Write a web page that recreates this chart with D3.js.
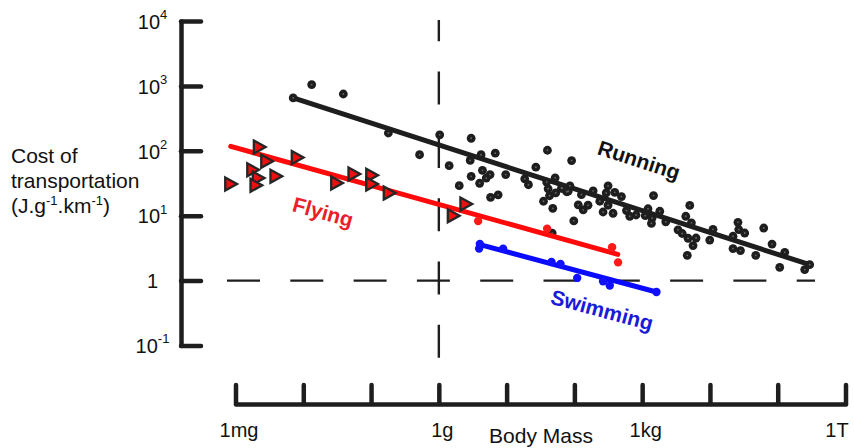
<!DOCTYPE html>
<html>
<head>
<meta charset="utf-8">
<script src="https://cdn.jsdelivr.net/npm/d3@7"></script>
<style>
  html, body { margin: 0; padding: 0; background: #fff; }
  svg { display: block; font-family: "Liberation Sans", Arial, Helvetica, sans-serif; }
</style>
</head>
<body>
<svg id="chart" width="854" height="448"></svg>
<script>
// Body mass (g) tick values and labels
const massTicks = [1e-3, 1e-2, 1e-1, 1, 10, 100, 1e3, 1e4, 1e5, 1e6];
const massTickLabels = ["1mg", "", "", "1g", "", "", "1kg", "", "", "1T"];

// Cost of transport (J/g/km) tick values and labels (base + exponent)
const costTicks = [0.1, 1, 10, 100, 1000, 10000];
const costTickBase = ["10", "1", "10", "10", "10", "10"];
const costTickExp = ["-1", "", "1", "2", "3", "4"];

// Running animals: [mass g, cost]
const runningPoints = [
  [0.0071, 652], [0.0133, 1047], [0.039, 750], [0.18, 188], [0.52, 87], [1.03, 176],
  [1.42, 59], [3.0, 156], [4.2, 87], [6.8, 92], [2.9, 71], [4.4, 50], [5.7, 43],
  [5.0, 38], [3.0, 40.5], [4.0, 31.6], [2.0, 29], [9.7, 43], [5.8, 19.2], [7.5, 21],
  [18.5, 37], [21, 30], [27, 56], [40, 102], [39, 33], [41, 26], [43, 20.3], [35, 16.7],
  [48, 13], [52, 38.4], [53, 22.4], [66, 26.4], [91, 70.6], [86, 28.9], [77, 23.4],
  [114, 14.7], [135, 12.3], [159, 14.5], [189, 24.2], [98, 8.3], [47, 5.4], [127, 21.1],
  [314, 28.9], [295, 22.4], [394, 22.9], [495, 19.7], [237, 16.7], [265, 11.4], [372, 10.9],
  [314, 14.5], [587, 12.0], [656, 9.8], [813, 10.25], [1470, 20.4], [1220, 12.8], [1110, 10.0],
  [1820, 11.7], [1400, 9.2], [1370, 7.6], [2230, 8.05], [3380, 6.06], [3900, 5.32],
  [5040, 14.4], [4400, 9.8], [5330, 7.77], [4750, 4.49], [6240, 4.53], [5630, 3.46],
  [4630, 2.45], [9930, 4.21], [11100, 6.17], [21900, 4.82], [25900, 7.91], [26600, 6.11],
  [32600, 5.41], [21900, 3.11], [28200, 2.9], [47400, 2.45], [62200, 6.46], [82400, 3.66],
  [127000, 2.73], [107000, 1.6], [250000, 1.48], [296000, 1.76], [64.5, 26.7], [81, 23.8]
];

// Flying animals: triangles (insects, birds) and dots
const flyingTriangles = [
  [0.00224, 114], [0.00288, 69], [0.00179, 51], [0.00216, 38], [0.00394, 40.5],
  [0.000847, 30.8], [0.0020, 29.4], [0.00813, 79], [0.031, 31.9], [0.0558, 43.9],
  [0.102, 41.9], [0.102, 30.8], [0.185, 22.4], [2.5, 15.1], [1.63, 10.0]
];
const flyingDots = [[3.8, 8.3], [39.6, 6.3], [360, 3.26], [441, 1.91]];

// Swimming animals
const swimmingPoints = [
  [3.93, 3.11], [4.03, 3.66], [8.88, 3.11], [45.9, 1.93], [62.4, 1.80],
  [110, 1.10], [265, 0.975], [333, 0.838], [1625, 0.667]
];

// Regression lines (end points)
const runningFit = [[0.0071, 652], [296000, 1.76]];
const flyingFit = [[0.00085, 117], [437, 2.54]];
const swimmingFit = [[4.03, 3.59], [1625, 0.667]];

const ink = "#1e1e1e";
const svg = d3.select("#chart");

const x = d3.scaleLog().domain([1e-3, 1e6]).range([235.5, 845.5]);
const y = d3.scaleLog().domain([0.1, 1e4]).range([345.5, 21]);

// Reference dashed lines at 1 g and 1 J/g/km
svg.append("line")
  .attr("x1", x(1)).attr("x2", x(1))
  .attr("y1", 20).attr("y2", 358)
  .attr("stroke", ink).attr("stroke-width", 2.4)
  .attr("stroke-dasharray", "33,30.3").attr("stroke-dashoffset", 11.7);
svg.append("line")
  .attr("x1", 227).attr("x2", 815)
  .attr("y1", y(1)).attr("y2", y(1))
  .attr("stroke", ink).attr("stroke-width", 2.4)
  .attr("stroke-dasharray", "33,30.3");

// Y axis
const yAxis = d3.axisLeft(y)
  .tickValues(costTicks)
  .tickSizeInner(-20).tickSizeOuter(0)
  .tickPadding(28.5)
  .tickFormat(() => "");
const gy = svg.append("g").attr("transform", "translate(181,0)").call(yAxis);
gy.select(".domain").attr("stroke", ink).attr("stroke-width", 4.5).attr("stroke-linecap", "round");
gy.selectAll(".tick line").attr("stroke", ink).attr("stroke-width", 4.5).attr("stroke-linecap", "round");
gy.selectAll(".tick text").each(function(d, i) {
  const t = d3.select(this)
    .attr("text-anchor", "middle").attr("fill", "#111")
    .attr("font-size", 20).attr("dy", "0.36em");
  t.append("tspan").text(costTickBase[i]);
  if (costTickExp[i]) {
    t.append("tspan").attr("font-size", 13).attr("dy", "-0.75em").text(costTickExp[i]);
  }
});

// X axis
const xAxis = d3.axisBottom(x)
  .tickValues(massTicks)
  .tickSizeInner(-19).tickSizeOuter(0)
  .tickPadding(19)
  .tickFormat((d, i) => massTickLabels[i]);
const gx = svg.append("g").attr("transform", "translate(0,404)").call(xAxis);
gx.select(".domain").attr("stroke", ink).attr("stroke-width", 4.5).attr("stroke-linecap", "round");
gx.selectAll(".tick line").attr("stroke", ink).attr("stroke-width", 4.5).attr("stroke-linecap", "round");
gx.selectAll(".tick text").attr("font-size", 20).attr("fill", "#111")
  .attr("dx", (d, i) => i === massTicks.length - 1 ? -9 : 3);

svg.append("text").attr("x", 541).attr("y", 443)
  .attr("text-anchor", "middle").attr("font-size", 21).attr("fill", "#111")
  .text("Body Mass");

// Y axis title
const yt = svg.append("text").attr("font-size", 21).attr("fill", "#111");
yt.append("tspan").attr("x", 11).attr("y", 163).text("Cost of");
yt.append("tspan").attr("x", 11).attr("y", 188).text("transportation");
yt.append("tspan").attr("x", 11).attr("y", 213).text("(J.g");
yt.append("tspan").attr("font-size", 13).attr("dy", -8).text("-1");
yt.append("tspan").attr("dy", 8).text(".km");
yt.append("tspan").attr("font-size", 13).attr("dy", -8).text("-1");
yt.append("tspan").attr("dy", 8).text(")");

const line = d3.line().x(d => x(d[0])).y(d => y(d[1]));

// Running
svg.append("path").datum(runningFit).attr("d", line)
  .attr("fill", "none").attr("stroke", ink).attr("stroke-width", 5).attr("stroke-linecap", "round");
const rg = svg.append("g");
rg.selectAll("circle.run").data(runningPoints).join("circle")
  .attr("cx", d => x(d[0])).attr("cy", d => y(d[1])).attr("r", 4.4).attr("fill", ink);
rg.selectAll("circle.core").data(runningPoints).join("circle")
  .attr("cx", d => x(d[0])).attr("cy", d => y(d[1])).attr("r", 0.9).attr("fill", "#666");

// Flying
svg.append("path").datum(flyingFit).attr("d", line)
  .attr("fill", "none").attr("stroke", "#ff0a0a").attr("stroke-width", 5).attr("stroke-linecap", "round");
svg.append("g").selectAll("path").data(flyingTriangles).join("path")
  .attr("transform", d => `translate(${x(d[0])},${y(d[1])})`)
  .attr("d", "M-5.4,-6.5L6.4,0L-5.4,6.5Z")
  .attr("fill", "#ec1010").attr("stroke", "#262626").attr("stroke-width", 2.3)
  .attr("stroke-linejoin", "miter");
svg.append("g").selectAll("circle").data(flyingDots).join("circle")
  .attr("cx", d => x(d[0])).attr("cy", d => y(d[1])).attr("r", 4.2).attr("fill", "#ff1a1a");

// Swimming
svg.append("path").datum(swimmingFit).attr("d", line)
  .attr("fill", "none").attr("stroke", "#0a0aff").attr("stroke-width", 5).attr("stroke-linecap", "round");
svg.append("g").selectAll("circle").data(swimmingPoints).join("circle")
  .attr("cx", d => x(d[0])).attr("cy", d => y(d[1])).attr("r", 4.2).attr("fill", "#1010ff");

// Group labels, tilted along their lines
function slopeAngle(fit) {
  const dx = x(fit[1][0]) - x(fit[0][0]);
  const dy = y(fit[1][1]) - y(fit[0][1]);
  return Math.atan2(dy, dx) * 180 / Math.PI;
}
svg.append("text")
  .attr("transform", `translate(639,160) rotate(${slopeAngle(runningFit)})`)
  .attr("text-anchor", "middle").attr("dy", "0.35em")
  .attr("font-size", 21).attr("font-weight", "bold").attr("fill", "#111")
  .text("Running");
svg.append("text")
  .attr("transform", `translate(323,212) rotate(${slopeAngle(flyingFit)})`)
  .attr("text-anchor", "middle").attr("dy", "0.35em")
  .attr("font-size", 21).attr("font-weight", "bold").attr("fill", "#e8202a")
  .text("Flying");
svg.append("text")
  .attr("transform", `translate(602,310) rotate(${slopeAngle(swimmingFit)})`)
  .attr("text-anchor", "middle").attr("dy", "0.35em")
  .attr("font-size", 21).attr("font-weight", "bold").attr("fill", "#1a1ad8")
  .text("Swimming");
</script>
</body>
</html>
